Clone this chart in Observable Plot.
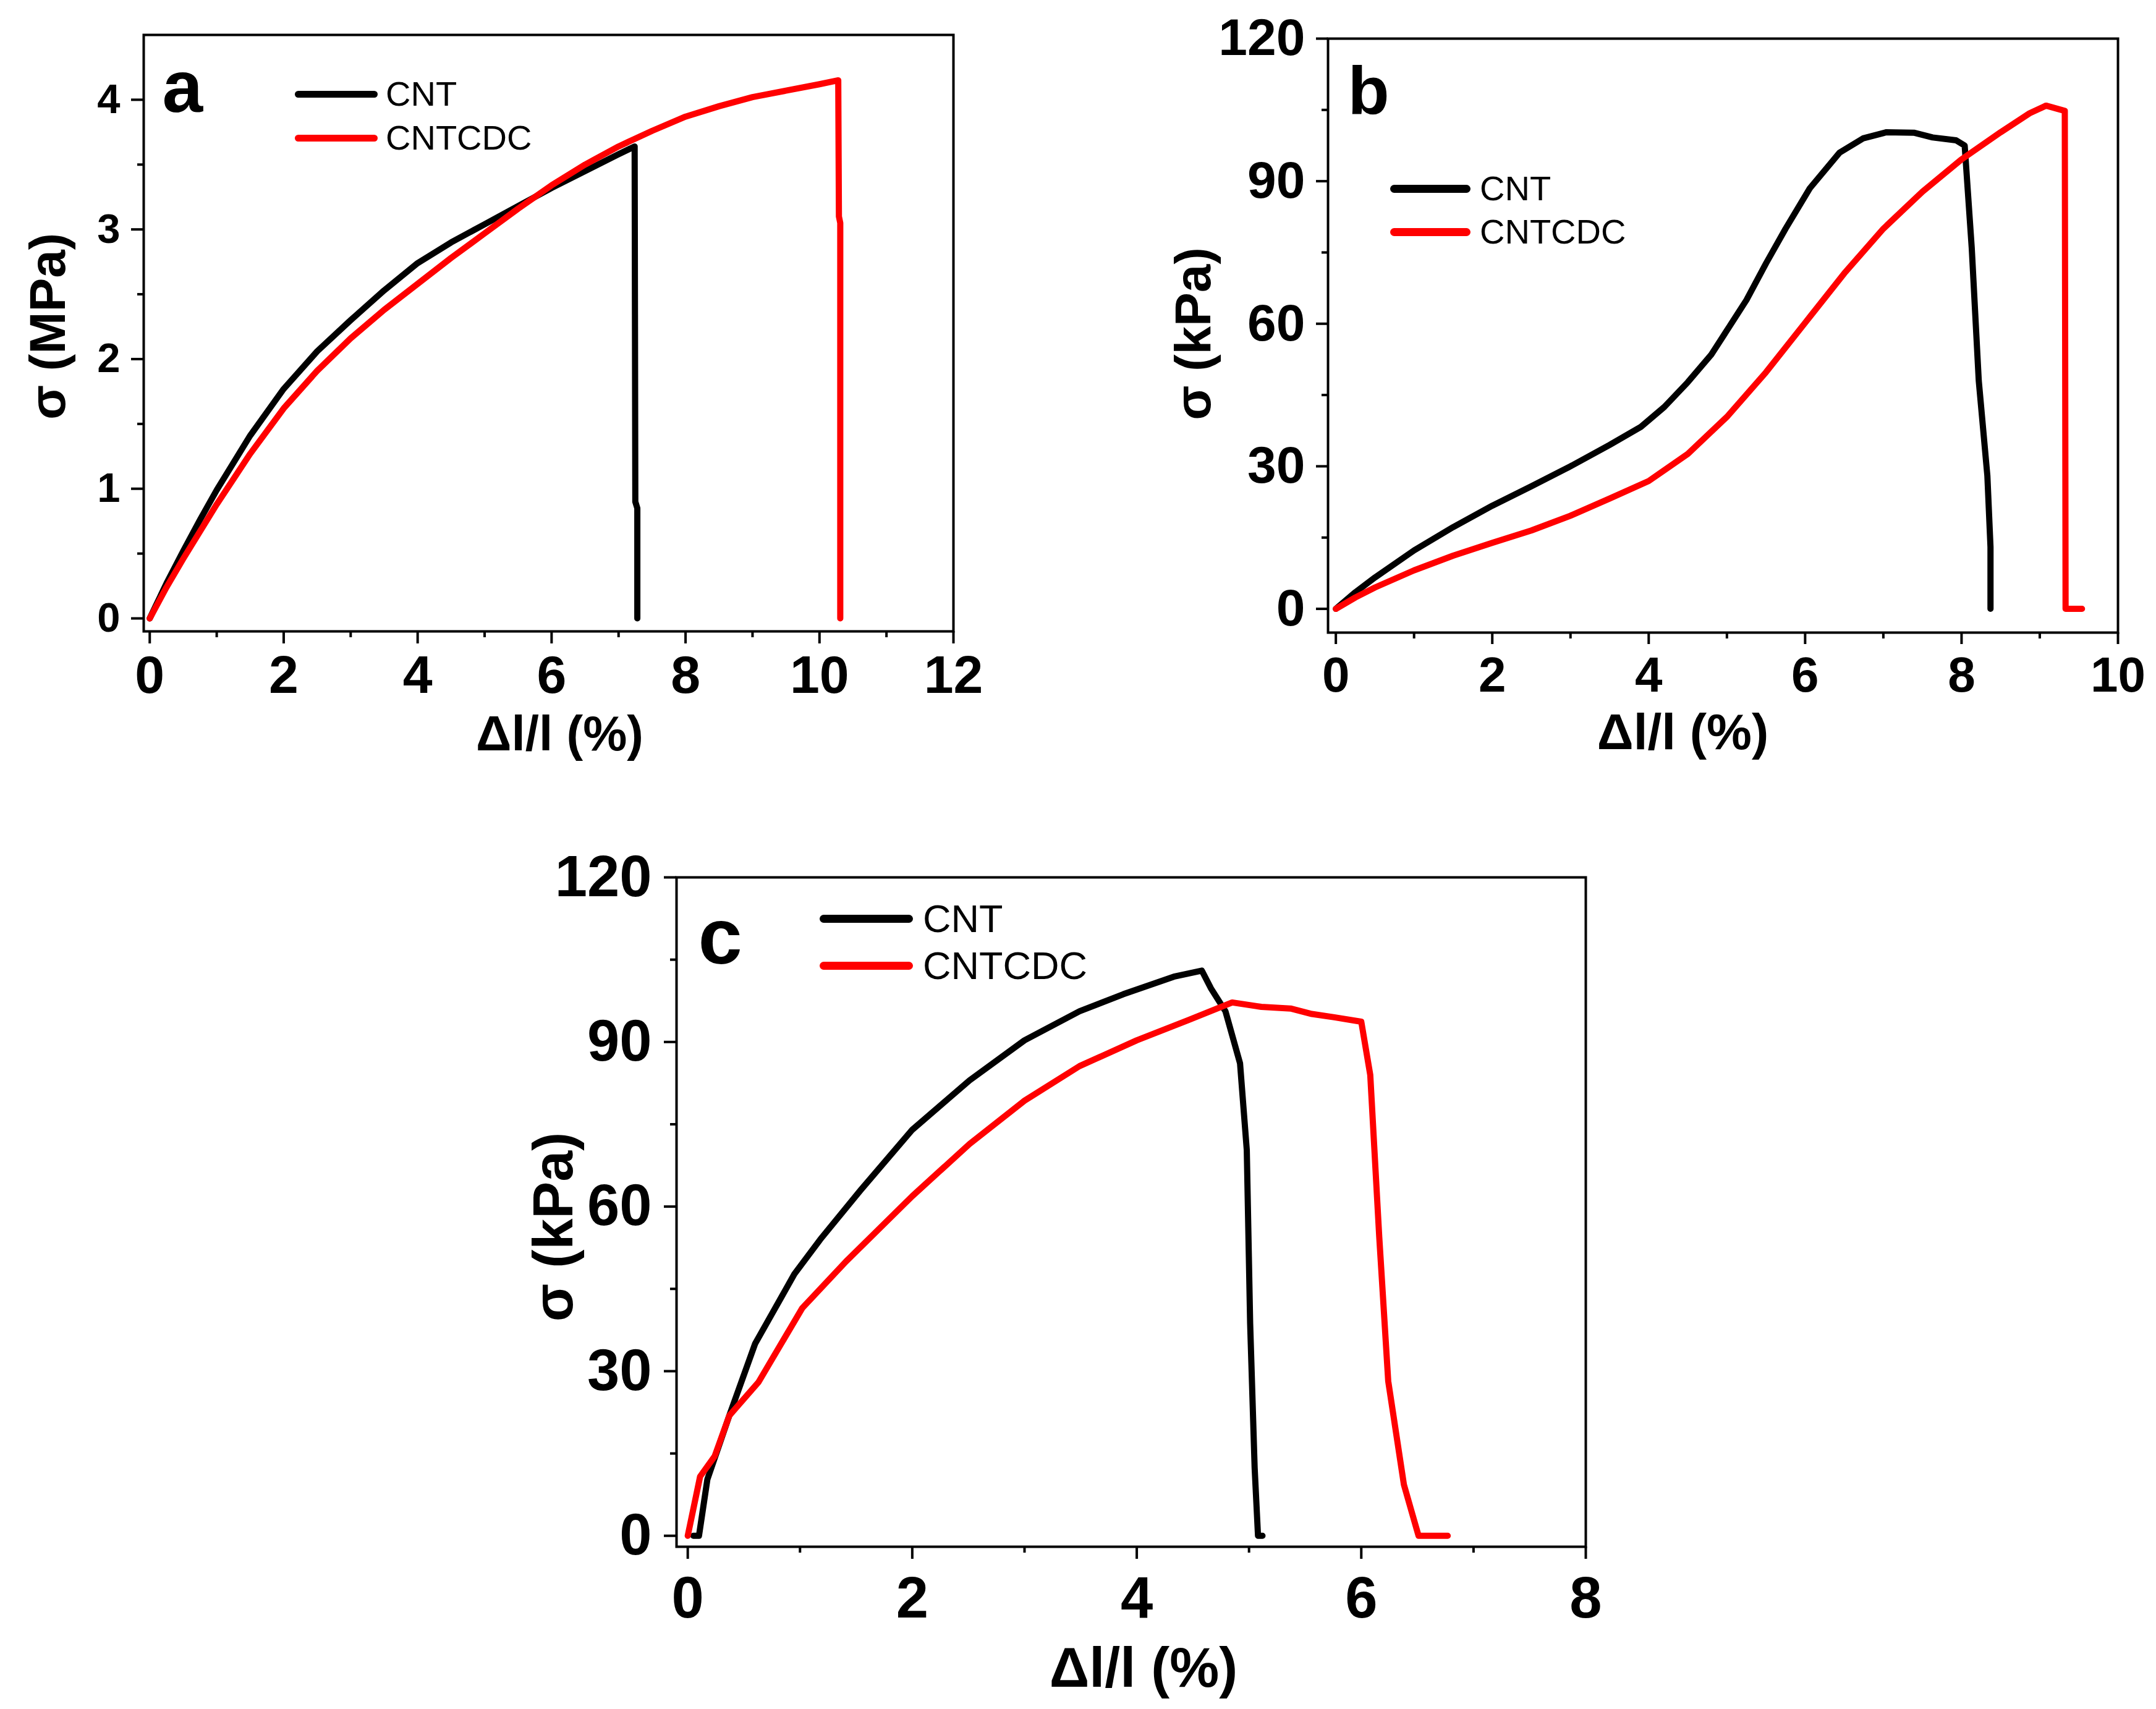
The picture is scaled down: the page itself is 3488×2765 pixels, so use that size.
<!DOCTYPE html>
<html>
<head>
<meta charset="utf-8">
<script src="https://cdn.jsdelivr.net/npm/d3@7"></script>
<script src="https://cdn.jsdelivr.net/npm/@observablehq/plot@0.6"></script>
<style>
  body { margin: 0; background: #fff; }
  #fig { position: relative; width: 3488px; height: 2765px; background: #fff; font-family: "Liberation Sans", Arial, sans-serif; }
  .panel { position: absolute; }
  .key { position: absolute; display: flex; align-items: center; }
  .key .sw { display: inline-block; }
  .key .lb { line-height: 1; color: #000; white-space: nowrap; }
</style>
</head>
<body>
<div id="fig"></div>
<script>
const series = ["CNT", "CNTCDC"];
const colors = ["#000000", "#ff0000"];

// (a) stress in MPa vs strain in %
const aCntStrain = [0, 0.25, 0.5, 0.75, 1, 1.5, 2, 2.5, 3, 3.5, 4, 4.5, 5, 5.5, 6, 6.5, 7, 7.24, 7.25, 7.28, 7.28];
const aCntStress = [0, 0.27, 0.52, 0.76, 0.99, 1.41, 1.77, 2.06, 2.30, 2.53, 2.74, 2.90, 3.04, 3.18, 3.32, 3.45, 3.58, 3.64, 0.9, 0.85, 0];
const aCdcStrain = [0, 0.25, 0.5, 0.75, 1, 1.5, 2, 2.5, 3, 3.5, 4, 4.5, 5, 5.5, 6, 6.5, 7, 7.5, 8, 8.5, 9, 9.5, 10, 10.28, 10.29, 10.31, 10.31];
const aCdcStress = [0, 0.24, 0.46, 0.67, 0.88, 1.27, 1.62, 1.91, 2.16, 2.38, 2.58, 2.78, 2.97, 3.16, 3.34, 3.50, 3.64, 3.76, 3.87, 3.95, 4.02, 4.07, 4.12, 4.15, 3.1, 3.05, 0];

// (b) stress in kPa
const bCntStrain = [0, 0.25, 0.5, 1, 1.5, 2, 2.5, 3, 3.5, 3.9, 4.2, 4.5, 4.8, 5, 5.25, 5.5, 5.75, 6.06, 6.44, 6.74, 7.04, 7.39, 7.63, 7.93, 8.04, 8.13, 8.22, 8.33, 8.37, 8.37];
const bCntStress = [0, 3.5, 6.6, 12.3, 17.2, 21.7, 25.8, 30.0, 34.5, 38.3, 42.5, 47.7, 53.5, 58.6, 65.0, 72.7, 80.0, 88.5, 96.0, 99.0, 100.3, 100.2, 99.2, 98.6, 97.5, 76, 48, 28, 13, 0];
const bCdcStrain = [0, 0.25, 0.5, 1, 1.5, 2, 2.5, 3, 3.5, 4, 4.5, 5, 5.5, 6, 6.5, 7, 7.5, 8, 8.5, 8.87, 9.08, 9.32, 9.33, 9.54];
const bCdcStress = [0, 2.4, 4.5, 8.1, 11.2, 13.9, 16.5, 19.6, 23.2, 26.9, 32.6, 40.4, 49.8, 60.2, 70.6, 80.0, 87.8, 94.6, 100.3, 104.3, 105.9, 104.8, 0, 0];

// (c) stress in kPa
const cCntStrain = [0.05, 0.1, 0.175, 0.37, 0.6, 0.76, 0.95, 1.18, 1.54, 2, 2.51, 3, 3.49, 3.88, 4.33, 4.58, 4.66, 4.79, 4.92, 4.98, 5.01, 5.05, 5.08, 5.12];
const cCntStress = [0, 0, 10.3, 21.9, 35, 40.8, 47.7, 54, 63, 74, 83, 90.3, 95.6, 98.7, 101.9, 103, 99.8, 95.6, 86.1, 70.3, 38.7, 12.4, 0, 0];
const cCdcStrain = [0, 0.11, 0.24, 0.37, 0.63, 1.02, 1.41, 2, 2.51, 3, 3.49, 4, 4.46, 4.85, 5.11, 5.37, 5.56, 5.76, 6, 6.08, 6.16, 6.24, 6.38, 6.51, 6.77];
const cCdcStress = [0, 10.8, 14.5, 21.9, 28, 41.5, 50, 61.9, 71.4, 79.3, 85.6, 90.3, 94, 97.2, 96.4, 96.1, 95.1, 94.5, 93.7, 84, 54.5, 28.2, 9.3, 0, 0];

// ticks
const aXTicks = [0, 2, 4, 6, 8, 10, 12], aXMinor = [1, 3, 5, 7, 9, 11];
const aYTicks = [0, 1, 2, 3, 4], aYMinor = [0.5, 1.5, 2.5, 3.5];
const bXTicks = [0, 2, 4, 6, 8, 10], bXMinor = [1, 3, 5, 7, 9];
const bYTicks = [0, 30, 60, 90, 120], bYMinor = [15, 45, 75, 105];
const cXTicks = [0, 2, 4, 6, 8], cXMinor = [1, 3, 5, 7];
const cYTicks = [0, 30, 60, 90, 120], cYMinor = [15, 45, 75, 105];

const xTitle = "Δl/l (%)";

function rows(name, xs, ys) {
  return xs.map((x, i) => ({series: name, strain: x, stress: ys[i]}));
}

const panels = [
  {
    letter: "a", yTitle: "σ (MPa)",
    data: [...rows("CNT", aCntStrain, aCntStress), ...rows("CNTCDC", aCdcStrain, aCdcStress)],
    xDomain: [-0.09, 12], yDomain: [-0.1, 4.5],
    xTicks: aXTicks, xMinor: aXMinor, yTicks: aYTicks, yMinor: aYMinor,
    svg: {left: 0, top: 0, w: 1744, h: 1300},
    frame: {l: 232, r: 1542, t: 56, b: 1021},
    yFont: 67, yPad: 18, ySize: 20, xFont: 86, xPad: 18, xSize: 20,
    yT: {font: 82, dx: -128, dy: -11}, xT: {font: 80, dx: 18, dy: 192},
    let: {font: 118, dx: 30, dy: 124},
    key: {x0: 477, x1: 611, ys: [152, 223], tx: 624, font: 56, th: 11}
  },
  {
    letter: "b", yTitle: "σ (kPa)",
    data: [...rows("CNT", bCntStrain, bCntStress), ...rows("CNTCDC", bCdcStrain, bCdcStress)],
    xDomain: [-0.1, 10], yDomain: [-5, 120],
    xTicks: bXTicks, xMinor: bXMinor, yTicks: bYTicks, yMinor: bYMinor,
    svg: {left: 1744, top: 0, w: 1744, h: 1300},
    frame: {l: 2148, r: 3426, t: 62, b: 1023},
    yFont: 84, yPad: 18, ySize: 19, xFont: 80, xPad: 20, xSize: 19,
    yT: {font: 82, dx: -191, dy: -3}, xT: {font: 82, dx: -65, dy: 188},
    let: {font: 110, dx: 32, dy: 121},
    key: {x0: 2249, x1: 2379, ys: [305, 375], tx: 2394, font: 56, th: 13}
  },
  {
    letter: "c", yTitle: "σ (kPa)",
    data: [...rows("CNT", cCntStrain, cCntStress), ...rows("CNTCDC", cCdcStrain, cCdcStress)],
    xDomain: [-0.1, 8], yDomain: [-2, 120],
    xTicks: cXTicks, xMinor: cXMinor, yTicks: cYTicks, yMinor: cYMinor,
    svg: {left: 700, top: 1300, w: 2100, h: 1465},
    frame: {l: 1094, r: 2565, t: 1419, b: 2502},
    yFont: 94, yPad: 20, ySize: 20, xFont: 94, xPad: 28, xSize: 20,
    yT: {font: 90, dx: -169, dy: 24}, xT: {font: 90, dx: 20, dy: 226},
    let: {font: 128, dx: 35, dy: 139},
    key: {x0: 1326, x1: 1477, ys: [1486, 1562], tx: 1493, font: 63, th: 13}
  }
];

const fig = document.getElementById("fig");
const fmt = d => String(d);

for (const p of panels) {
  const s = p.svg, f = p.frame;
  const chart = Plot.plot({
    width: s.w,
    height: s.h,
    marginLeft: f.l - s.left,
    marginRight: s.left + s.w - f.r,
    marginTop: f.t - s.top,
    marginBottom: s.top + s.h - f.b,
    x: {domain: p.xDomain},
    y: {domain: p.yDomain},
    color: {domain: series, range: colors},
    style: {background: "transparent", overflow: "visible", color: "#000", fontFamily: "'Liberation Sans', Arial, sans-serif"},
    marks: [
      Plot.line(p.data, {x: "strain", y: "stress", z: "series", stroke: "series", strokeWidth: 10, curve: "linear", strokeLinejoin: "round", strokeLinecap: "round"}),
      Plot.frame({stroke: "#000", strokeWidth: 4}),
      Plot.axisX(p.xMinor, {tickSize: 10, strokeWidth: 4, fill: "none", label: null}),
      Plot.axisX(p.xTicks, {tickSize: p.xSize, tickPadding: p.xPad, tickFormat: fmt, strokeWidth: 4, fontSize: p.xFont, fontWeight: "bold", label: null}),
      Plot.axisY(p.yMinor, {tickSize: 10, strokeWidth: 4, fill: "none", label: null}),
      Plot.axisY(p.yTicks, {tickSize: p.ySize, tickPadding: p.yPad, tickFormat: fmt, strokeWidth: 4, fontSize: p.yFont, fontWeight: "bold", label: null}),
      Plot.text([p.yTitle], {text: d => d, frameAnchor: "left", rotate: -90, dx: p.yT.dx, dy: p.yT.dy, textAnchor: "middle", lineAnchor: "bottom", fontSize: p.yT.font, fontWeight: "bold"}),
      Plot.text([xTitle], {text: d => d, frameAnchor: "bottom", dx: p.xT.dx, dy: p.xT.dy, textAnchor: "middle", lineAnchor: "bottom", fontSize: p.xT.font, fontWeight: "bold"}),
      Plot.text([p.letter], {text: d => d, frameAnchor: "top-left", dx: p.let.dx, dy: p.let.dy, textAnchor: "start", lineAnchor: "bottom", fontSize: p.let.font, fontWeight: "bold"})
    ]
  });
  chart.classList.add("panel");
  chart.style.left = s.left + "px";
  chart.style.top = s.top + "px";
  fig.appendChild(chart);

  // line-swatch legend inside the frame
  const k = p.key;
  series.forEach((name, i) => {
    const row = d3.select(fig).append("div")
      .attr("class", "key")
      .style("left", k.x0 + "px")
      .style("top", (k.ys[i] - k.font / 2) + "px")
      .style("height", k.font + "px");
    row.append("span").attr("class", "sw")
      .style("width", (k.x1 - k.x0) + "px")
      .style("height", k.th + "px")
      .style("border-radius", (k.th / 2) + "px")
      .style("background", colors[i]);
    row.append("span").attr("class", "lb")
      .style("margin-left", (k.tx - k.x1) + "px")
      .style("font-size", k.font + "px")
      .text(name);
  });
}
</script>
</body>
</html>
